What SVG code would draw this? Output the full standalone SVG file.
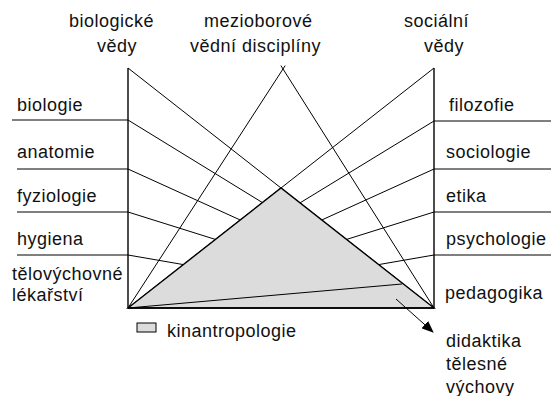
<svg xmlns="http://www.w3.org/2000/svg" width="551" height="396" viewBox="0 0 551 396">
<style>
text{font-family:"Liberation Sans",Arial,sans-serif;font-size:18px;letter-spacing:0.5px;fill:#111}
.ln{stroke:#000;stroke-width:1;fill:none}
.ax{stroke:#000;stroke-width:1.4;fill:none}
.tri{fill:#dcdcdc;stroke:#000;stroke-width:1.4}
</style>
<defs>
<marker id="ah" markerWidth="12" markerHeight="10" refX="11" refY="5" orient="auto" markerUnits="userSpaceOnUse">
<path d="M0,0 L12,5 L0,10 Z" fill="#000"/>
</marker>
</defs>
<g id="connectors">
<line class="ln" x1="128" y1="68" x2="434" y2="308"/>
<line class="ln" x1="128" y1="120" x2="434" y2="308"/>
<line class="ln" x1="128" y1="169" x2="434" y2="308"/>
<line class="ln" x1="128" y1="212" x2="434" y2="308"/>
<line class="ln" x1="128" y1="255" x2="434" y2="308"/>
<line class="ln" x1="434" y1="68" x2="128" y2="308"/>
<line class="ln" x1="434" y1="121" x2="128" y2="308"/>
<line class="ln" x1="434" y1="169" x2="128" y2="308"/>
<line class="ln" x1="434" y1="212" x2="128" y2="308"/>
<line class="ln" x1="434" y1="255" x2="128" y2="308"/>
<line class="ln" x1="128" y1="308" x2="285.2" y2="65.6"/>
<line class="ln" x1="434" y1="308" x2="280.9" y2="65.6"/>
<line class="ln" x1="12" y1="120" x2="128" y2="120"/>
<line class="ln" x1="17" y1="169" x2="128" y2="169"/>
<line class="ln" x1="17" y1="212" x2="128" y2="212"/>
<line class="ln" x1="17" y1="255" x2="128" y2="255"/>
<line class="ln" x1="434" y1="121" x2="551" y2="121"/>
<line class="ln" x1="434" y1="169" x2="551" y2="169"/>
<line class="ln" x1="434" y1="212" x2="551" y2="212"/>
<line class="ln" x1="434" y1="255" x2="551" y2="255"/>
</g>
<g id="kinantropologie">
<polygon class="tri" points="128,308 281,188 434,308"/>
<line class="ln" x1="128" y1="308" x2="402" y2="284"/>
</g>
<g id="axes">
<line class="ax" x1="128" y1="68" x2="128" y2="308"/>
<line class="ax" x1="434" y1="68" x2="434" y2="308"/>
<line class="ax" x1="128" y1="308" x2="434" y2="308"/>
</g>
<g id="arrow">
<line class="ln" x1="396" y1="299" x2="433" y2="332" marker-end="url(#ah)"/>
</g>
<g id="top-labels">
<text x="69" y="27">biologické</text>
<text x="97" y="52">vědy</text>
<text x="204" y="27">mezioborové</text>
<text x="190" y="52">vědní disciplíny</text>
<text x="404" y="27">sociální</text>
<text x="424" y="52">vědy</text>
</g>
<g id="left-labels">
<text x="17" y="111">biologie</text>
<text x="17" y="158">anatomie</text>
<text x="17" y="202">fyziologie</text>
<text x="17" y="245">hygiena</text>
<text x="12" y="280">tělovýchovné</text>
<text x="12" y="301">lékařství</text>
</g>
<g id="right-labels">
<text x="449" y="111">filozofie</text>
<text x="446" y="158">sociologie</text>
<text x="446" y="202">etika</text>
<text x="446" y="245">psychologie</text>
<text x="445" y="299">pedagogika</text>
<text x="446" y="347">didaktika</text>
<text x="446" y="370">tělesné</text>
<text x="446" y="393">výchovy</text>
</g>
<g id="legend">
<rect x="137" y="323" width="19" height="9" fill="#dcdcdc" stroke="#000" stroke-width="1"/>
<text x="167" y="337">kinantropologie</text>
</g>
</svg>
